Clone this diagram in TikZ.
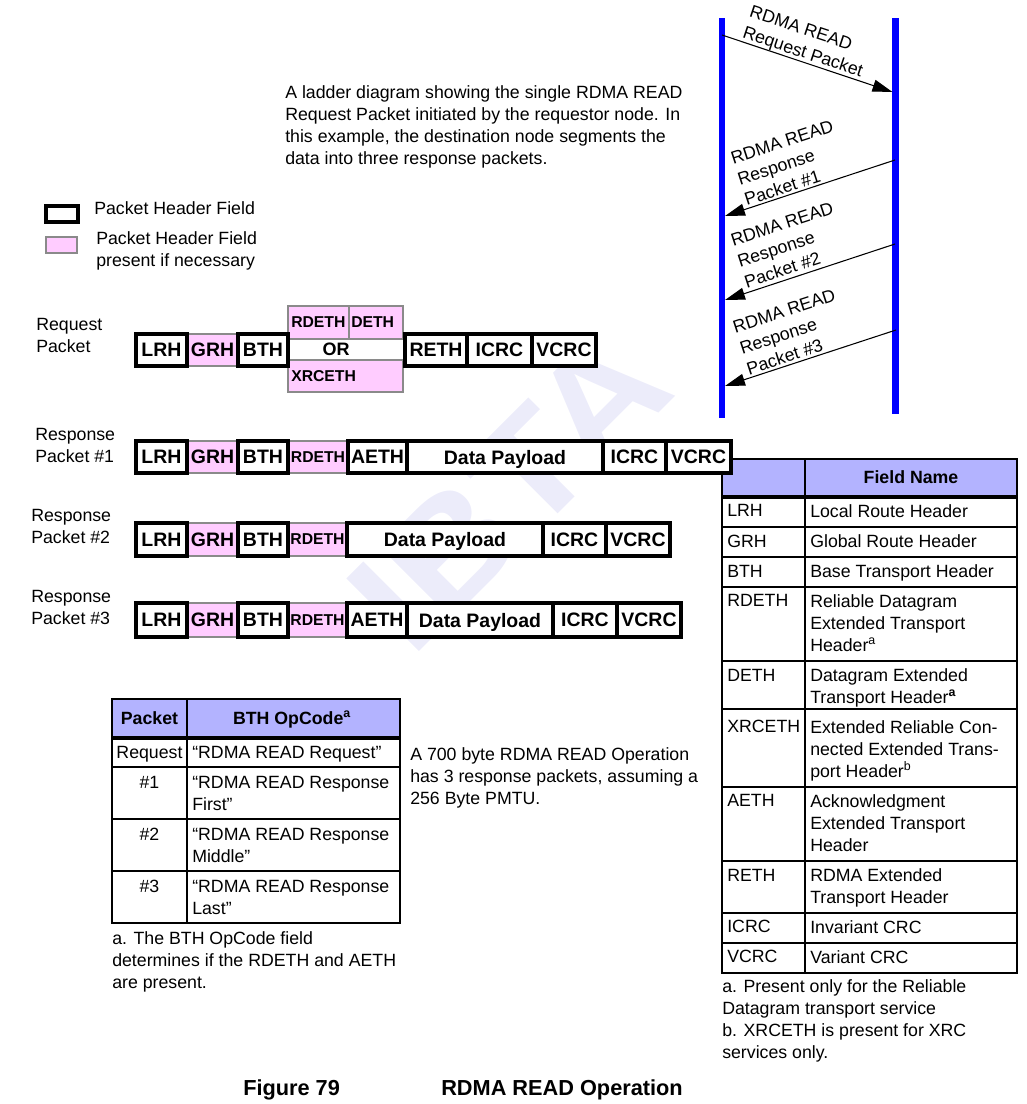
\documentclass[tikz,border=0pt]{standalone}
\usepackage{fontspec}
\setmainfont{Liberation Sans}
\usetikzlibrary{arrows.meta,positioning}
\definecolor{LadderBlue}{HTML}{0000FF}
\definecolor{OptPink}{HTML}{FFCCFF}
\definecolor{OptGray}{HTML}{8A8A8A}
\definecolor{HeadLav}{HTML}{B3B3FF}
\definecolor{MarkLav}{HTML}{ECECFA}
\newcommand{\txtfont}{\fontsize{13.3}{16.5}\selectfont}
\newcommand{\fldfont}{\fontsize{14.6}{16}\selectfont\bfseries}
\newcommand{\smlfont}{\fontsize{11.8}{13}\selectfont\bfseries}
\newcommand{\capfont}{\fontsize{16.3}{18}\selectfont\bfseries}
\tikzset{
  fld/.style={draw=black,line width=2.4pt,fill=white,nodes={font=\fldfont,text depth=0pt,inner sep=0pt}},
  opt/.style={draw=OptGray,line width=2pt,fill=OptPink,nodes={font=\fldfont,text depth=0pt,inner sep=0pt}},
  optsm/.style={opt,nodes={font=\smlfont}},
  txt/.style={font=\txtfont,align=left,anchor=north west,inner sep=0pt},
  hd/.style={font=\txtfont\bfseries,text depth=0pt,inner sep=0pt},
  cell/.style={draw=black,line width=0.9pt},
  ladder/.style={LadderBlue,line width=4.8pt},
  msg/.style={line width=0.8pt,-{Triangle[length=15pt,width=9pt]}},
  msglbl/.style={font=\txtfont,align=left,inner sep=0pt},
  wmark/.style={rotate=45,xscale=1.12,text=MarkLav,font=\fontsize{112}{112}\selectfont\bfseries,inner sep=0pt}
}
\begin{document}
\begin{tikzpicture}[x=0.75pt,y=-0.75pt]
\useasboundingbox (0,0) rectangle (1027,1104);
% watermark
\node[wmark] (ibta) at (509,490) {IBTA};

% intro text and legend
\node[txt] (intro) at (285,85.6) {A ladder diagram showing the single RDMA READ\\Request Packet initiated by the requestor node. In\\this example, the destination node segments the\\data into three response packets.};
\draw[fld] (46,206) rectangle (78,222);
\node[txt] (legHdr) at (94,201.6) {Packet Header Field};
\draw[opt] (46,237) rectangle (77,253);
\node[txt] (legOpt) at (96,231.6) {Packet Header Field\\present if necessary};

% ladder
\coordinate (srcTop) at (722,18);   \coordinate (srcBot) at (722,418);
\coordinate (dstTop) at (895.5,18); \coordinate (dstBot) at (895.5,414);
\draw[ladder] (srcTop) -- (srcBot);
\draw[ladder] (dstTop) -- (dstBot);
\coordinate (reqS) at (722,35);  \coordinate (reqE) at (892.5,92);
\coordinate (rsp1S) at (895,160); \coordinate (rsp1E) at (725,216);
\coordinate (rsp2S) at (895,244); \coordinate (rsp2E) at (725,300);
\coordinate (rsp3S) at (896,330); \coordinate (rsp3E) at (725,386);
\draw[msg] (reqS) -- (reqE);
\draw[msg] (rsp1S) -- (rsp1E);
\draw[msg] (rsp2S) -- (rsp2E);
\draw[msg] (rsp3S) -- (rsp3E);
\node[msglbl,rotate=-18.4] (reqLbl) at (806,42.9) {RDMA READ\\Request Packet};
\node[msglbl,rotate=18] (rsp1Lbl) at (788.8,162.9) {RDMA READ\\Response\\Packet \#1};
\node[msglbl,rotate=18] (rsp2Lbl) at (788.8,245) {RDMA READ\\Response\\Packet \#2};
\node[msglbl,rotate=18] (rsp3Lbl) at (791,332) {RDMA READ\\Response\\Packet \#3};

% field name table
\fill[HeadLav] (722,459) rectangle (1017,497);
\draw[cell] (722,459) rectangle (1017,973);
\draw[line width=2.3pt] (722,497) -- (1017,497);
\draw[cell] (805,459) -- (805,973);
\foreach \y in {527,557,587,661,709,787,861,913,943} \draw[cell] (722,\y) -- (1017,\y);
\node[hd] (fnHead) at (911,477) {Field Name};
\foreach \yy/\k/\v in {504/LRH/Local Route Header, 534.6/GRH/Global Route Header, 564.6/BTH/Base Transport Header,
  594.3/RDETH/{Reliable Datagram\\Extended Transport\\Header\textsuperscript{a}},
  668.6/DETH/{Datagram Extended\\Transport Header\textsuperscript{\bfseries a}},
  720.3/XRCETH/{Extended Reliable Con-\\nected Extended Trans-\\port Header\textsuperscript{b}},
  794.3/AETH/{Acknowledgment\\Extended Transport\\Header},
  868.6/RETH/{RDMA Extended\\Transport Header},
  920.3/ICRC/Invariant CRC, 950.3/VCRC/Variant CRC}{
  \node[txt] (key\k) at (727,\yy) {\k};
  \node[txt] (val\k) at (810,\yy) {\v};
}
\node[txt] (fnNote) at (722,979.6) {a. Present only for the Reliable\\Datagram transport service\\b. XRCETH is present for XRC\\services only.};

% request packet
\node[txt] (reqName) at (36,317.6) {Request\\Packet};
\draw[opt] (187,334) rectangle node{GRH} (238,366);
\draw[opt] (288,306) rectangle (349,339);
\draw[opt] (349,306) rectangle (403,339);
\draw[opt] (288,360) rectangle (403,392);
\node[font=\smlfont,anchor=west,inner sep=0pt,text depth=0pt] (rqRdeth) at (291,322.5) {RDETH};
\node[font=\smlfont,anchor=west,inner sep=0pt,text depth=0pt] (rqDeth) at (351,322.5) {DETH};
\node[font=\fontsize{13.5}{15}\selectfont\bfseries,inner sep=0pt] (rqOr) at (336,349) {OR};
\node[font=\smlfont,anchor=west,inner sep=0pt,text depth=0pt] (rqXrc) at (291,376) {XRCETH};
\foreach \a/\b/\t in {136/187/LRH, 238/288/BTH, 405/467/RETH, 467/532/ICRC, 532/596/VCRC}
  \draw[fld] (\a,334) rectangle node{\t} (\b,366);

% response packet #1
\node[txt] (rsp1Name) at (35,427.6) {Response\\Packet \#1};
\foreach \a/\b/\t/\s in {187/238/GRH/opt, 288/348/RDETH/optsm, 136/187/LRH/fld, 238/288/BTH/fld,
  348/407/AETH/fld, 407/603/Data Payload/fld, 603/666/ICRC/fld, 666/731/VCRC/fld}
  \draw[\s] (\a,441) rectangle node{\t} (\b,473);

% response packet #2
\node[txt] (rsp2Name) at (31,508.6) {Response\\Packet \#2};
\foreach \a/\b/\t/\s in {187/238/GRH/opt, 288/347/RDETH/optsm, 136/187/LRH/fld, 238/288/BTH/fld,
  347/543/Data Payload/fld, 543/606/ICRC/fld, 606/670/VCRC/fld}
  \draw[\s] (\a,523) rectangle node{\t} (\b,556);

% response packet #3
\node[txt] (rsp3Name) at (31,589.6) {Response\\Packet \#3};
\foreach \a/\b/\t/\s in {187/238/GRH/opt, 288/347/RDETH/optsm, 136/187/LRH/fld, 238/288/BTH/fld,
  347/407/AETH/fld, 407/553/Data Payload/fld, 553/617/ICRC/fld, 617/681/VCRC/fld}
  \draw[\s] (\a,603) rectangle node{\t} (\b,637);

% BTH opcode table
\fill[HeadLav] (112,699) rectangle (400,738);
\draw[cell] (112,699) rectangle (400,923);
\draw[line width=2.3pt] (112,738) -- (400,738);
\draw[cell] (187,699) -- (187,923);
\foreach \y in {767,819,871} \draw[cell] (112,\y) -- (400,\y);
\node[hd] (opHeadPkt) at (149.5,718) {Packet};
\node[hd] (opHeadCode) at (292,718) {BTH OpCode\textsuperscript{a}};
\foreach \yy/\k/\v [count=\i] in {745.6/Request/“RDMA READ Request”,
  775.6/\#1/{“RDMA READ Response\\First”},
  827.6/\#2/{“RDMA READ Response\\Middle”},
  879.6/\#3/{“RDMA READ Response\\Last”}}{
  \node[txt,anchor=north] (opKey\i) at (149.5,\yy) {\k};
  \node[txt] (opVal\i) at (192,\yy) {\v};
}
\node[txt] (opNote) at (112,931.6) {a. The BTH OpCode field\\determines if the RDETH and AETH\\are present.};
\node[txt] (sizeNote) at (410,747.6) {A 700 byte RDMA READ Operation\\has 3 response packets, assuming a\\256 Byte PMTU.};

% caption
\node[txt,font=\capfont] (figNum) at (243,1079) {Figure 79};
\node[txt,font=\capfont] (figTitle) at (441,1079) {RDMA READ Operation};
\end{tikzpicture}
\end{document}
